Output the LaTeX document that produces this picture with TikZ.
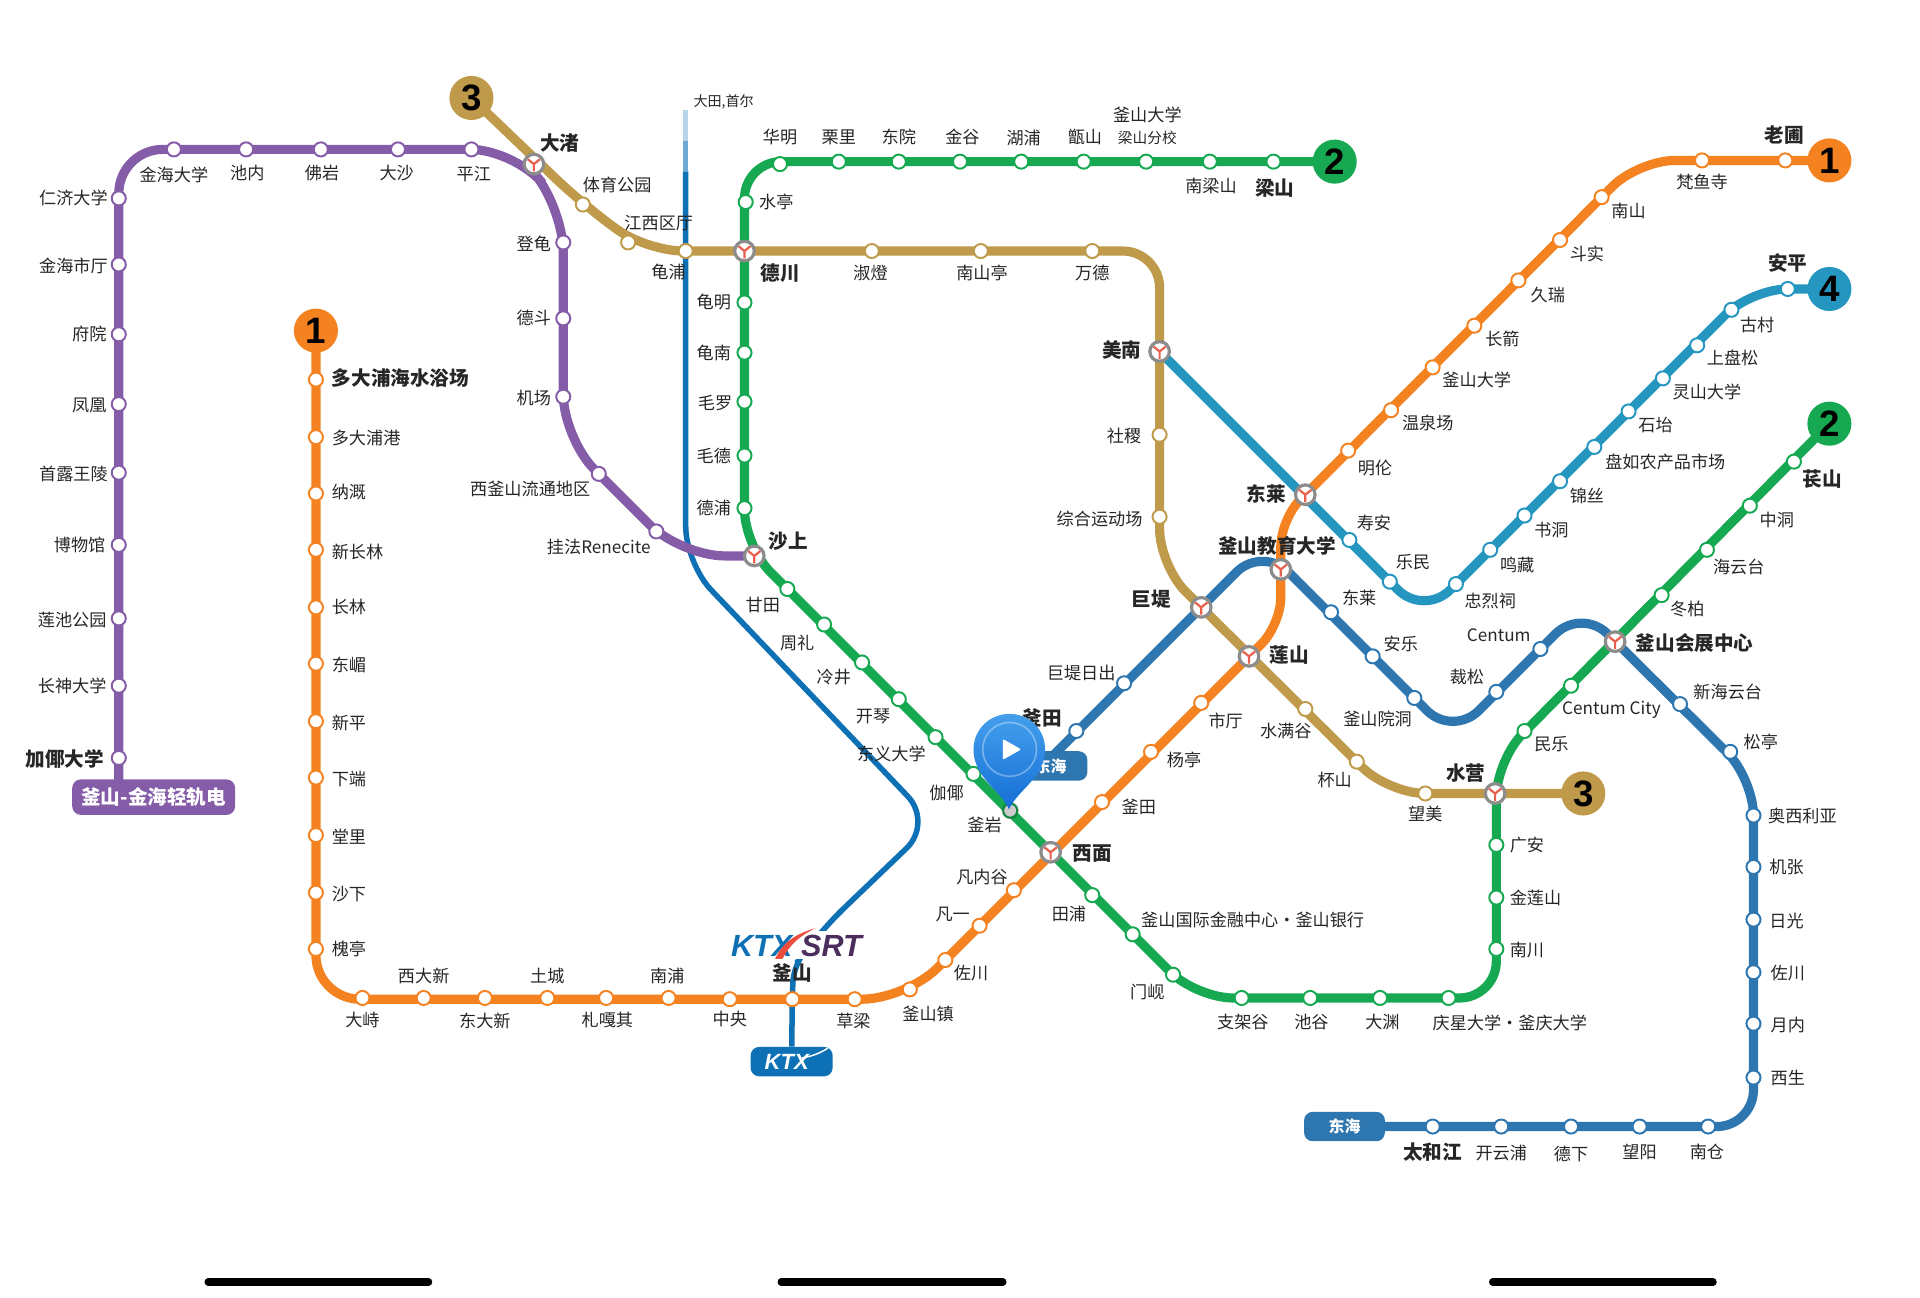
\documentclass[tikz,border=0pt]{standalone}
\usepackage{fontspec}
\setmainfont{Noto Sans CJK SC}
\newfontfamily\logofont{Liberation Sans}
\usetikzlibrary{backgrounds}
\definecolor{pur}{HTML}{855CA8}
\definecolor{ora}{HTML}{F58220}
\definecolor{gre}{HTML}{16A951}
\definecolor{gol}{HTML}{BF9A4B}
\definecolor{tea}{HTML}{2496BF}
\definecolor{dong}{HTML}{2E76B0}
\definecolor{ktx}{HTML}{0E70B5}
\definecolor{srt}{HTML}{4B2E5E}
\definecolor{yred}{HTML}{E8604C}
\definecolor{pintop}{HTML}{459FEC}
\definecolor{pinbot}{HTML}{146ED6}
\newcommand{\hub}[1]{{\fontsize{16}{16}\selectfont\bfseries #1}}
\newcommand{\smalltxt}[1]{{\fontsize{12}{12}\selectfont #1}}
\newcommand{\stops}[3]{\foreach \x/\y/\lx/\ly/\txt [count=\i] in {#3} {
    \node[stn,draw=#2] (#1\i) at (\x,\y) {};
    \node[lbl] (#1\i t) at (\lx,\ly) {\txt};}}

\begin{document}
\begin{tikzpicture}[x=1pt,y=-1pt,
    stn/.style={circle,fill=white,line width=1.6pt,minimum size=11.5pt,inner sep=0pt},
    lbl/.style={inner sep=0pt,font=\fontsize{14}{14}\selectfont,text=black!85},
    xfer/.style={circle,fill=white,draw=black!45,line width=2.6pt,minimum size=16pt,inner sep=0pt,
        path picture={\draw[yred,line width=1.8pt]
            (path picture bounding box.center) -- +(0,-6pt)
            (path picture bounding box.center) -- +(-5pt,4pt)
            (path picture bounding box.center) -- +(5pt,4pt);}},
    badge/.style={circle,minimum size=36pt,inner sep=0pt,text=black,font=\logofont\bfseries\fontsize{30}{30}\selectfont},
    pill/.style={rounded corners=7pt,inner sep=0pt,text=white,font=\bfseries\fontsize{13}{13}\selectfont},
    mline/.style={line width=7.5pt,rounded corners=30pt},
    bar/.style={line width=6pt,line cap=round,black}]
  \useasboundingbox (0,0) rectangle (1568,1060);

  \node[badge,fill=ora] (b1w) at (258,270) {1};
  \node[badge,fill=ora] (b1e) at (1494,131) {1};
  \node[badge,fill=gre] (b2w) at (1090,132) {2};
  \node[badge,fill=gre] (b2e) at (1494,346) {2};
  \node[badge,fill=gol] (b3w) at (385,80) {3};
  \node[badge,fill=gol] (b3e) at (1293,648) {3};
  \node[badge,fill=tea] (b4) at (1494,236) {4};

  \node[pill,fill=pur,minimum width=133pt,minimum height=29pt,font=\bfseries\fontsize{16}{16}\selectfont] (bgl) at (125.5,651) {釜山-金海轻轨电};
  \node[pill,fill=dong,minimum width=66pt,minimum height=24pt] (dhs) at (1098,920) {东海};
  \node[pill,fill=dong,minimum width=60pt,minimum height=24pt] (dhn) at (858,625.5) {东海};
  \node[pill,fill=ktx,minimum width=67pt,minimum height=24pt,font=\logofont\bfseries\itshape\fontsize{18}{18}\selectfont] (kp) at (646.5,867) {\hspace*{-8pt}KTX};
  \draw[white,line width=1.2pt] (655,864) .. controls (662,863) and (670,860) .. (676,856);

  % purple line
  \stops{p}{pur}{97/619/53/620/\hub{加倻大学},97/560/59/560/长神大学,97/505/59/506/莲池公园,
    97/445/65/445/博物馆,97/386/60/387/首露王陵,97/330/73/331/凤凰,97/273/73/273/府院,
    97/216/60/217/金海市厅,97/162/60/162/仁济大学,142/122/142/143/金海大学,201/122/202/141/池内,
    262/122/263/141/佛岩,325/122/324/141/大沙,385/122/387/142/平江,460/198/436/199/登龟,
    460/260/436/260/德斗,460/324/436/325/机场,489/387/433/399/西釜山流通地区,536/434/489/447/挂法Renecite}

  % line 1
  \stops{o}{ora}{258/310/327/309/\hub{多大浦海水浴场},258/357/299/358/多大浦港,258/403/285/402/纳溉,
    258/449/292/451/新长林,258/496/285/496/长林,258/542/285/543/东嵋,258/589/285/590/新平,
    258/635/285/636/下端,258/682/285/683/堂里,258/729/285/730/沙下,258/775/285/775/槐亭,
    296/815/296/833/大峙,346/815/346/797/西大新,396/815/396/834/东大新,447/815/447/797/土城,
    495/815/496/833/札嘎其,546/815/545/797/南浦,596/816/596/832/中央,647/816/647/795/\hub{釜山},
    698/816/697/834/草梁,743/808/758/828/釜山镇,772/784/793/795/佐川,800/756/778/747/凡一,
    828/727/802/716/凡内谷,900/655/930/659/釜田,940/614/967/621/杨亭,981/574/1001/589/市厅,
    1101/368/1123/382/明伦,1136/335/1166/345/温泉场,1170/300/1206/310/釜山大学,1204/266/1227/277/长箭,
    1240/229/1264/241/久瑞,1274/196/1296/207/斗实,1308/161/1330/172/南山,1390/131/1390/149/梵鱼寺,
    1458/131/1457/110/\hub{老圃}}

  % line 2
  \stops{g}{gre}{1040/132/1041/154/\hub{梁山},988/132/989/152/南梁山,936/132/937/113/\smalltxt{梁山分校},
    885/132/886/112/甑山,834/132/836/113/湖浦,784/132/786/112/金谷,734/132/734/112/东院,
    685/132/685/112/栗里,637/134/637/112/华明,609/165/634/165/水亭,608/247/583/247/龟明,
    608/288/583/288/龟南,608/328/584/329/毛罗,608/372/583/372/毛德,608/415/583/415/德浦,
    643/481/623/494/甘田,673/510/651/525/周礼,704/541/681/553/冷井,734/571/713/585/开琴,
    764/602/728/616/东义大学,795/632/773/648/伽倻,825/662/804/674/釜岩,892/731/873/746/田浦,
    925/763/1023/751/釜山国际金融中心·釜山银行,958/796/937/810/门岘,1014/815/1015/835/支架谷,
    1070/815/1071/835/池谷,1127/815/1129/835/大渊,1183/815/1233/835/庆星大学·釜庆大学,
    1222/775/1247/776/南川,1222/733/1254/733/金莲山,1222/690/1247/690/广安,1245/597/1267/608/民乐,
    1283/560/1316/580/Centum City,1357/486/1378/497/冬柏,1394/449/1420/463/海云台,
    1429/413/1451/425/中洞,1465/377/1488/391/\hub{苌山}}
  \node[lbl] (g7u) at (937,94) {釜山大学};

  % line 3
  \stops{y}{gol}{476/167/504/151/体育公园,513/198/538/182/江西区厅,560/205/546/222/龟浦,712/205/711/223/淑燈,
    801/205/802/223/南山亭,892/205/892/223/万德,947/355/918/356/社稷,947/422/898/424/综合运动场,
    1066/579/1050/597/水满谷,1108/622/1090/637/杯山,1164/648/1164/665/望美}

  % line 4
  \stops{t}{tea}{1102/441/1122/427/寿安,1135/475/1154/459/乐民,1189/477/1217/491/忠烈祠,1217/449/1239/461/鸣藏,
    1245/421/1267/433/书洞,1274/393/1296/405/锦丝,1302/365/1360/377/盘如农产品市场,1330/336/1352/347/石坮,
    1358/309/1394/320/灵山大学,1386/282/1415/292/上盘松,1414/253/1435/265/古村,1460/236/1460/215/\hub{安平}}

  % donghae line
  \stops{d}{dong}{1170/920/1170/941/\hub{太和江},1226/920/1226/942/开云浦,1283/920/1283/942/德下,
    1339/920/1339/941/望阳,1395/920/1394/941/南仓,1432/880/1460/880/西生,1432/836/1460/837/月内,
    1432/794/1460/795/佐川,1432/751/1459/752/日光,1432/708/1459/708/机张,1432/666/1472/666/奥西利亚,
    1413/614/1438/606/松亭,1372/575/1411/565/新海云台,1258/530/1224/519/Centum,1222/565/1198/553/裁松,
    1155/570/1125/587/釜山院洞,1121/536/1144/526/安乐,1087/500/1110/488/东莱,918/558/883/550/巨堤日出,
    879/597/851/586/\hub{釜田}}

  % transfer stations
  \foreach \n/\x/\y/\lx/\ly/\txt in {daj/436/134/457/117/大渚,dec/608/205/637/223/德川,
      sas/616/454/644/442/沙上,mid/947/287/916/286/美南,dnr/1066/404/1034/403/东莱,
      edu/1046/465/1043/446/釜山教育大学,goj/981/496/940/489/巨堤,yeo/1020/536/1053/535/莲山,
      seo/858/696/892/697/西面,suy/1221/648/1197/631/水营,bex/1319/524/1384/525/釜山会展中心} {
    \node[xfer] (\n) at (\x,\y) {};
    \node[lbl] (\n t) at (\lx,\ly) {\hub{\txt}};
  }

  \node[lbl,font=\fontsize{11.5}{11.5}\selectfont] (kdir) at (591,83) {大田,首尔};

  % bends
  \coordinate (ka) at (560,90);
  \coordinate (kb) at (560,115);
  \coordinate (kc) at (560,140);
  \coordinate (kd) at (560,460);
  \coordinate (ke) at (762,672);
  \coordinate (kf) at (668,762);
  \coordinate (kg) at (648,790);
  \coordinate (pa) at (97,122);
  \coordinate (pb) at (420,122);
  \coordinate (pc) at (460,170);
  \coordinate (pd) at (460,358);
  \coordinate (pe) at (556,454);
  \coordinate (oa) at (258,816);
  \coordinate (ob) at (740,816);
  \coordinate (oc) at (1046,510);
  \coordinate (od) at (1046,424);
  \coordinate (oe) at (1338,131);
  \coordinate (ga) at (608,132);
  \coordinate (gb) at (608,446);
  \coordinate (gc) at (977,815);
  \coordinate (gd) at (1222,815);
  \coordinate (ge) at (1222,621);
  \coordinate (ya) at (528,205);
  \coordinate (yb) at (947,205);
  \coordinate (yc) at (947,462);
  \coordinate (yd) at (1134,648);
  \coordinate (ta) at (1163,503);
  \coordinate (tb) at (1430,236);
  \coordinate (da) at (1432,920);
  \coordinate (db) at (1432,636);
  \coordinate (dc) at (1291.5,496.5);
  \coordinate (dd) at (1186.5,601.5);
  \coordinate (de) at (1031,446);
  \coordinate (df) at (852,625);

  \begin{scope}[on background layer]
    \draw[ktx!30,line width=4.5pt] (ka) -- (kb);
    \draw[ktx!60,line width=4.5pt] (kb) -- (kc);
    \draw[ktx,line width=4.5pt,rounded corners=30pt] (kc) -- (kd) -- (ke) -- (kf) [rounded corners=12pt] -- (kg) -- (647,816) -- (kp);
    \draw[mline,tea] (mid.center) -- (ta) -- (tb) -- (b4.center);
    \draw[mline,dong] (dhs.center) -- (da) -- (db) -- (dc) -- (dd) -- (de) -- (df);
    \draw[mline,pur,rounded corners=36pt] (bgl.center -| pa) -- (pa) -- (pb) -- (pc) -- (pd) -- (pe) -- (sas.center);
    \draw[mline,gol] (b3w.center) -- (y1.center) -- (ya) -- (yb) -- (yc) -- (yd) -- (b3e.center);
    \draw[mline,ora,rounded corners=36pt] (b1w.center) -- (oa) -- (ob) [rounded corners=22pt] -- (oc) -- (od) [rounded corners=30pt] -- (oe) -- (b1e.center);
    \draw[mline,gre] (b2w.center) -- (ga) -- (gb) -- (gc) -- (gd) -- (ge) -- (b2e.center);
  \end{scope}

  % rail logos
  \fill[white] (600,760) rectangle (705,783);
  \node[inner sep=0pt,text=ktx,font=\logofont\bfseries\itshape\fontsize{25}{25}\selectfont] (lk) at (622,772.5) {KTX};
  \node[inner sep=0pt,text=srt,font=\logofont\bfseries\itshape\fontsize{25}{25}\selectfont] (ls) at (679,772.5) {SRT};
  \fill[yred!80!red] (633,783) .. controls (640,768) and (652,762) .. (666,758) .. controls (654,764) and (646,770) .. (639,783) -- cycle;

  % location pin
  \fill[black,opacity=.2] (g22.center) circle (7pt);
  \shade[top color=pintop,bottom color=pinbot] (824,661) .. controls (817,645) and (795,635) .. (795,612)
    .. controls (795,596) and (808,583) .. (824.5,583) .. controls (841,583) and (853.5,596) .. (853.5,612)
    .. controls (853.5,635) and (831,645) .. (824,661) -- cycle;
  \node[circle,draw=white,opacity=.35,line width=1.3pt,minimum size=44pt,inner sep=0pt] (ring) at (824.5,612) {};
  \fill[white,rounded corners=1pt] (819,603.5) -- (834,612) -- (819,620.5) -- cycle;

  \draw[bar] (170,1047) -- (350,1047);
  \draw[bar] (638,1047) -- (819,1047);
  \draw[bar] (1219,1047) -- (1399,1047);
\end{tikzpicture}
\end{document}
